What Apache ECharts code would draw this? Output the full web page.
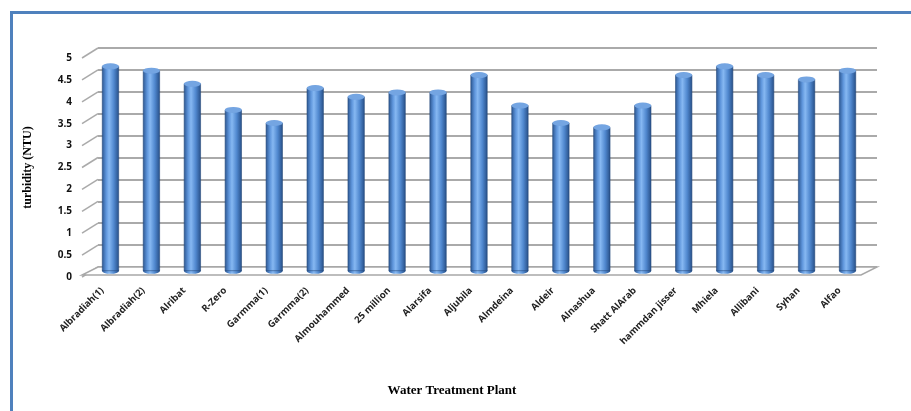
<!DOCTYPE html>
<html>
<head>
<meta charset="utf-8">
<script src="https://cdn.jsdelivr.net/npm/echarts@6/dist/echarts.min.js"></script>
<style>html,body{margin:0;padding:0;background:#fff;}#c{width:911px;height:411px;}</style>
</head>
<body>
<div id="c"></div>
<script>
var categories = ['Albradiah(1)','Albradiah(2)','Alribat','R-Zero','Garmma(1)','Garmma(2)','Almouhammed','25 million','Alarsifa','Aljubila','Almdeina','Aldeir','Alnashua','Shatt AlArab','hammdan jisser','Mhiela','Allibani','Syhan','Alfao'];
var turbidity = [4.7,4.6,4.3,3.7,3.4,4.2,4.0,4.1,4.1,4.5,3.8,3.4,3.3,3.8,4.5,4.7,4.5,4.4,4.6];
var yTicks = [0,0.5,1,1.5,2,2.5,3,3.5,4,4.5,5];

var chart = echarts.init(document.getElementById('c'));
var barGrad = new echarts.graphic.LinearGradient(0,0,1,0,[
  {offset:0,color:'#2a5590'},{offset:0.25,color:'#5f96dc'},{offset:0.42,color:'#86b8f2'},
  {offset:0.7,color:'#5088cf'},{offset:1,color:'#264e86'}]);
var DX = -16, DY = 8;
var option = {
  animation:false,
  graphic:[
    {type:'rect',shape:{x:11.5,y:12.5,width:1000,height:1000},style:{fill:'none',stroke:'#4f81bd',lineWidth:3}},
    {type:'text',x:452,y:391,style:{text:'Water Treatment Plant',font:'bold 13px "Liberation Serif"',fill:'#000',textAlign:'center',textVerticalAlign:'middle'}}
  ],
  grid:[
    {left:98,right:34,top:48,bottom:144},
    {left:82,right:51,top:58,bottom:134},
    {left:90,right:43,top:53,bottom:140}
  ],
  xAxis:[
    {gridIndex:0,type:'category',data:categories,show:false},
    {gridIndex:1,type:'category',data:categories,axisLine:{show:false},axisTick:{show:false},
     axisLabel:{rotate:45,interval:0,margin:12,fontSize:9.5,fontWeight:'bold',color:'#222',fontFamily:'Open Sans'}},
    {gridIndex:2,type:'category',data:categories,show:false}
  ],
  yAxis:[
    {gridIndex:0,type:'value',min:0,max:5,interval:0.5,axisLine:{show:false},axisTick:{show:false},axisLabel:{show:false},
     splitLine:{lineStyle:{color:'#aaaaaa',width:1.8}}},
    {gridIndex:1,type:'value',min:0,max:5,interval:0.5,axisLine:{show:false},axisTick:{show:false},splitLine:{show:false},
     axisLabel:{fontSize:10,fontWeight:'bold',color:'#111',margin:10,fontFamily:'Open Sans'},
     name:'turbidity (NTU)',nameLocation:'middle',nameGap:48,nameRotate:90,
     nameTextStyle:{fontFamily:'Liberation Serif',fontWeight:'bold',fontSize:12,color:'#000'}},
    {gridIndex:2,type:'value',min:0,max:5,show:false}
  ],
  series:[
    {type:'custom',xAxisIndex:0,yAxisIndex:0,data:yTicks.map(function(v){return [0,v];}),silent:true,z:1,
     renderItem:function(params,api){
       var cs = params.coordSys;
       var y = api.coord([0,api.value(1)])[1];
       var children = [{type:'line',shape:{x1:cs.x+DX,y1:y+DY+2,x2:cs.x,y2:y},style:{stroke:'#aaaaaa',lineWidth:1.5}}];
       if (api.value(1) === 0) {
         children.push({type:'polygon',shape:{points:[[cs.x,y],[cs.x+cs.width,y],[cs.x+cs.width+DX,y+DY],[cs.x+DX,y+DY]]},
           style:{fill:'#ffffff',stroke:'#a8a8a8',lineWidth:1.5}});
       }
       return {type:'group',children:children};
     }},
    {type:'bar',xAxisIndex:2,yAxisIndex:2,data:turbidity,barWidth:17,z:3,
     itemStyle:{color:barGrad,borderColor:'#27497a',borderWidth:0.6}},
    {type:'pictorialBar',xAxisIndex:2,yAxisIndex:2,data:turbidity,symbol:'circle',symbolSize:[17,6],
     symbolPosition:'end',symbolOffset:[0,'-50%'],z:4,
     itemStyle:{color:'#74a5e2',borderColor:'#27497a',borderWidth:0.8}},
    {type:'pictorialBar',xAxisIndex:2,yAxisIndex:2,data:turbidity,symbol:'circle',symbolSize:[17,6],
     symbolPosition:'start',symbolOffset:[0,'50%'],z:2,
     itemStyle:{color:barGrad,borderColor:'#27497a',borderWidth:0.6}}
  ]
};
chart.setOption(option);
</script>
</body>
</html>
